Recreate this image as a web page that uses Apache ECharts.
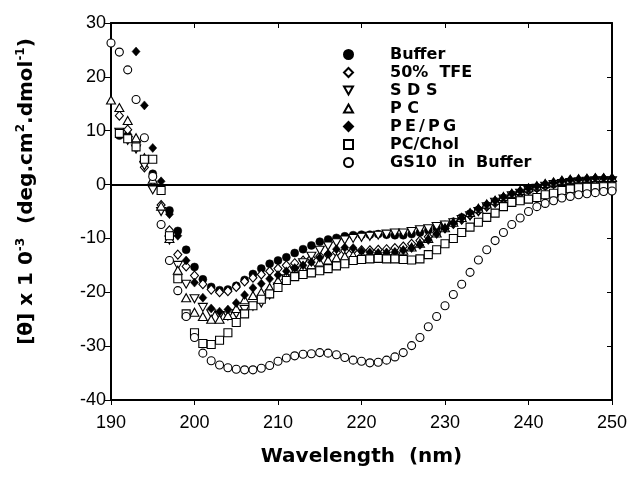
<!DOCTYPE html>
<html><head><meta charset="utf-8">
<script src="https://cdn.jsdelivr.net/npm/echarts/dist/echarts.min.js"></script>
<style>html,body{margin:0;padding:0;background:#fff}#c{width:631px;height:477px}</style>
</head><body><div id="c"></div>
<script>
const wavelengths = [190,191,192,193,194,195,196,197,198,199,200,201,202,203,204,205,206,207,208,209,210,211,212,213,214,215,216,217,218,219,220,221,222,223,224,225,226,227,228,229,230,231,232,233,234,235,236,237,238,239,240,241,242,243,244,245,246,247,248,249,250];
const xTicks = [190,200,210,220,230,240,250];
const yTicks = [-40,-30,-20,-10,0,10,20,30];
const seriesNames = ['Buffer','50% TFE','SDS','PC','PE/PG','PC/Chol','GS10 in Buffer'];
const legendLabels = ['Buffer','50%  TFE','S D S','P C','P\u2009E\u2009/\u2009P\u2009G','PC/Chol','GS10  in  Buffer'];

const buffer = [null,9.1,9.1,7.2,4.5,2.0,-0.8,-4.8,-8.6,-12.1,
-15.3,-17.6,-19.0,-19.6,-19.5,-18.8,-17.7,-16.6,-15.6,-14.7,
-14.1,-13.5,-12.7,-12.0,-11.3,-10.6,-10.2,-9.9,-9.6,-9.4,
-9.3,-9.3,-9.2,-9.3,-9.4,-9.4,-9.2,-8.9,-8.5,-8.0,
-7.5,-6.9,-6.1,-5.4,-4.7,-3.9,-3.2,-2.6,-2.0,-1.5,
-1.0,-0.6,-0.2,0.1,0.3,0.4,0.5,0.5,0.6,0.6,0.6];
const tfe = [null,12.8,10.2,7.8,3.2,-0.3,-3.8,-8.5,-13.0,-15.2,
-16.9,-18.5,-19.5,-20.0,-19.8,-19.0,-18.0,-17.3,-16.7,-16.1,
-15.6,-15.0,-14.6,-14.1,-13.7,-13.3,-13.0,-12.6,-12.3,-12.2,
-12.2,-12.2,-12.1,-12.0,-11.8,-11.5,-11.0,-10.4,-9.7,-8.9,
-8.1,-7.3,-6.5,-5.7,-4.9,-4.1,-3.4,-2.7,-2.0,-1.5,
-1.0,-0.6,-0.2,0.1,0.3,0.5,0.6,0.6,0.7,0.7,0.7];
const sds = [null,9.7,8.2,6.6,3.5,-1.0,-5.0,-10.3,-15.0,-18.5,
-21.2,-22.8,-24.0,-24.3,-24.4,-24.0,-23.2,-22.6,-22.0,-20.5,
-19.0,-17.5,-16.0,-14.5,-13.3,-12.2,-11.4,-10.8,-10.3,-10.0,
-9.8,-9.6,-9.4,-9.2,-9.0,-9.0,-8.7,-8.4,-8.2,-7.8,
-7.5,-7.1,-6.5,-5.8,-5.0,-4.1,-3.3,-2.7,-2.1,-1.6,
-1.1,-0.7,-0.3,0.0,0.2,0.4,0.5,0.6,0.7,0.7,0.7];
const pc = [15.7,14.3,11.9,8.7,5.0,1.0,-4.0,-10.0,-15.9,-21.0,
-23.7,-24.5,-25.0,-25.0,-24.3,-23.0,-21.4,-20.6,-20.0,-19.1,
-17.8,-16.9,-16.1,-15.5,-14.9,-14.4,-14.0,-13.6,-13.3,-13.1,
-12.9,-12.8,-12.8,-12.7,-12.6,-12.2,-11.6,-10.9,-10.0,-9.0,
-8.0,-7.0,-6.1,-5.2,-4.4,-3.6,-2.9,-2.2,-1.6,-1.1,
-0.6,-0.2,0.2,0.5,0.8,1.0,1.1,1.2,1.3,1.3,1.3];
const pepg = [null,null,null,24.7,14.7,6.8,0.6,-5.5,-9.5,-14.1,
-18.2,-21.0,-23.0,-23.6,-23.2,-22.0,-20.5,-19.2,-18.4,-17.5,
-16.8,-16.1,-15.5,-15.0,-14.4,-13.6,-12.9,-12.0,-11.7,-11.8,
-12.4,-12.6,-12.7,-12.6,-12.5,-12.2,-11.8,-11.2,-10.3,-9.2,
-8.2,-7.2,-6.2,-5.3,-4.5,-3.7,-3.0,-2.3,-1.7,-1.2,
-0.7,-0.3,0.1,0.4,0.7,0.9,1.0,1.1,1.2,1.2,1.2];
const pcchol = [null,9.5,8.5,7.0,4.7,4.7,-1.1,-9.5,-17.5,-24.0,
-27.5,-29.5,-29.7,-28.9,-27.5,-25.6,-24.0,-22.5,-21.3,-20.3,
-19.1,-17.8,-17.1,-16.7,-16.4,-16.0,-15.6,-15.1,-14.7,-14.1,
-13.9,-13.8,-13.7,-13.8,-13.8,-13.9,-14.0,-13.8,-13.0,-12.1,
-11.0,-10.0,-8.9,-7.9,-7.0,-6.1,-5.3,-4.1,-3.3,-3.0,
-2.7,-2.4,-1.9,-1.6,-1.1,-0.8,-0.6,-0.5,-0.5,-0.4,-0.4];
const gs10 = [26.3,24.6,21.3,15.8,8.7,1.5,-7.4,-14.1,-19.7,-24.5,
-28.4,-31.3,-32.7,-33.5,-34.0,-34.3,-34.4,-34.4,-34.1,-33.6,
-32.8,-32.2,-31.8,-31.5,-31.4,-31.2,-31.3,-31.6,-32.1,-32.6,
-32.8,-33.1,-33.0,-32.6,-32.0,-31.2,-29.9,-28.4,-26.4,-24.5,
-22.5,-20.4,-18.5,-16.3,-14.0,-12.1,-10.4,-8.9,-7.4,-6.2,
-5.0,-4.1,-3.5,-3.0,-2.5,-2.2,-1.9,-1.7,-1.5,-1.3,-1.2];

const seriesValues = [buffer, tfe, sds, pc, pepg, pcchol, gs10];
const symbols = ['circle','diamond','path://M0,0L10,0L5,9Z','path://M5,0L10,9L0,9Z','diamond','rect','circle'];
const filled = [true,false,false,false,true,false,false];
const sizes = [8,[8,9],[9,8],[9,8],[8,9],8,8];

const chart = echarts.init(document.getElementById('c'), null, {renderer:'canvas'});
const FONT = 'Liberation Sans, Arial, sans-serif';
const series = seriesNames.map((n,i)=>({
  name:n, type:'scatter', xAxisIndex:0, yAxisIndex:0,
  symbol:symbols[i], symbolSize:sizes[i],
  data: wavelengths.map((w,j)=>[w, seriesValues[i][j]]).filter(p=>p[1]!==null),
  itemStyle: filled[i] ? {color:'#000', borderColor:'#000', borderWidth:0.5, opacity:1}
                       : {color:'#fff', borderColor:'#000', borderWidth:1.1, opacity:1},
  emphasis:{disabled:true}, animation:false, z: 2+i
}));
series[0].markLine = {silent:true, symbol:'none', animation:false, label:{show:false},
  lineStyle:{color:'#000', width:2, type:'solid', opacity:1}, data:[{yAxis:0}]};

const labelMap = {}; seriesNames.forEach((n,i)=>labelMap[n]=legendLabels[i]);

chart.setOption({
  backgroundColor:'#fff',
  animation:false,
  grid:{left:111, top:23, right:19, bottom:77, containLabel:false},
  legend:{
    orient:'vertical', left:338, top:41, itemWidth:9, itemHeight:9, itemGap:1,
    data:seriesNames, selectedMode:false,
    formatter:n=>labelMap[n],
    textStyle:{fontFamily:'DejaVu Sans', fontWeight:'bold', fontSize:16, lineHeight:17, color:'#000', padding:[0,0,0,32]}
  },
  xAxis:[{
    type:'value', min:190, max:250, interval:10, position:'bottom',
    name:'Wavelength  (nm)', nameLocation:'middle', nameGap:47,
    nameTextStyle:{fontFamily:'DejaVu Sans', fontWeight:'bold', fontSize:20, color:'#000'},
    axisLine:{show:true, onZero:false, lineStyle:{color:'#000', width:2}},
    axisTick:{show:true, inside:false, length:5, lineStyle:{color:'#000', width:1}},
    axisLabel:{show:true, margin:14, fontFamily:FONT, fontSize:18, color:'#000',
      formatter:v=>xTicks.includes(v)?String(v):''},
    splitLine:{show:false}
  },{
    type:'value', min:190, max:250, interval:10, position:'top',
    axisLine:{show:true, onZero:false, lineStyle:{color:'#000', width:2}},
    axisTick:{show:true, inside:true, length:5, lineStyle:{color:'#000', width:1}},
    axisLabel:{show:false}, splitLine:{show:false}
  }],
  yAxis:[{
    type:'value', min:-40, max:30, interval:10, position:'left',
    name:'{a|[θ] x 1 0}{s|-3}{a|  (deg.cm}{s|2}{a|.dmol}{s|-1}{a|)}',
    nameLocation:'middle', nameRotate:90, nameGap:72,
    nameTextStyle:{padding:[0,0,0,40], rich:{
      a:{fontFamily:'DejaVu Sans', fontWeight:'bold', fontSize:20, color:'#000', lineHeight:24},
      s:{fontFamily:'DejaVu Sans', fontWeight:'bold', fontSize:12, color:'#000', verticalAlign:'top', lineHeight:24, padding:[0,0,10,0]}
    }},
    axisLine:{show:true, onZero:false, lineStyle:{color:'#000', width:2}},
    axisTick:{show:true, inside:false, length:7, lineStyle:{color:'#000', width:1}},
    axisLabel:{show:true, margin:5, fontFamily:FONT, fontSize:18, color:'#000',
      formatter:v=>yTicks.includes(v)?String(v):''},
    splitLine:{show:false}
  },{
    type:'value', min:-40, max:30, interval:10, position:'right',
    axisLine:{show:true, onZero:false, lineStyle:{color:'#000', width:2}},
    axisTick:{show:true, inside:true, length:5, lineStyle:{color:'#000', width:1}},
    axisLabel:{show:false}, splitLine:{show:false}
  }],
  series: series
});
</script></body></html>
